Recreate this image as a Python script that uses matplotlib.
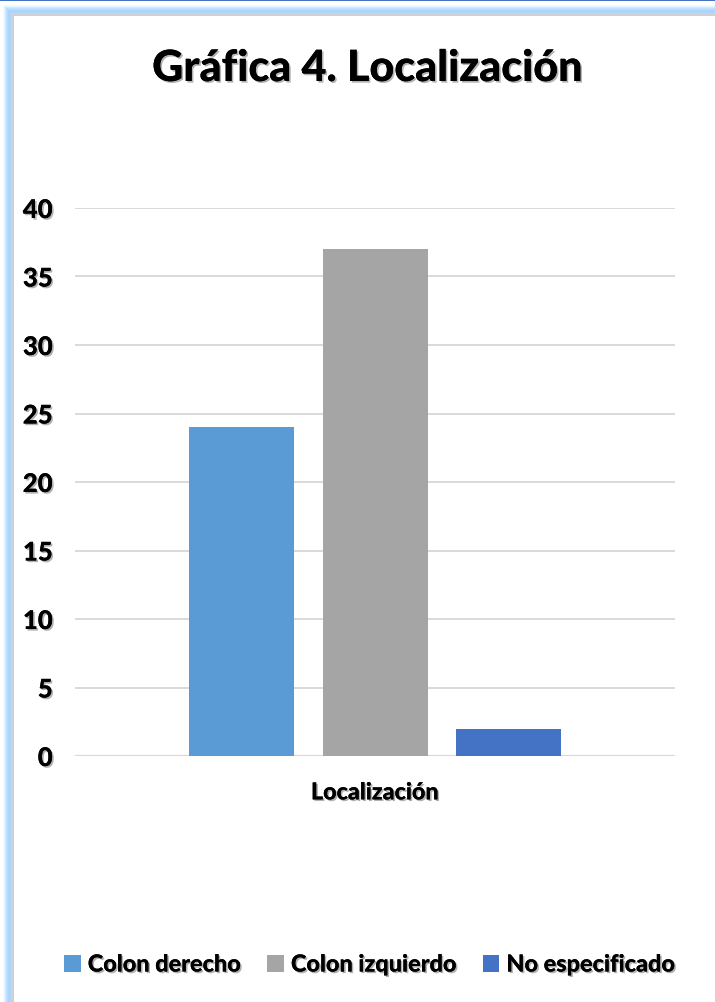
import numpy as np
import matplotlib
matplotlib.use("Agg")
import matplotlib.pyplot as plt
from matplotlib import patheffects as pe
from matplotlib.patches import Rectangle

# Data
category = "Localización"
series_names = ["Colon derecho", "Colon izquierdo", "No especificado"]
series_values = [24, 37, 2]
series_colors = ["#5B9BD5", "#A5A5A5", "#4472C4"]
y_ticks = [0, 5, 10, 15, 20, 25, 30, 35, 40]
title_text = "Gráfica 4. Localización"

W, H = 715, 1003
fig = plt.figure(figsize=(W / 100, H / 100), dpi=100)
fig.patch.set_facecolor("white")

FONT = ["Lato", "DejaVu Sans"]
WEIGHT = 900
shadow = [pe.withSimplePatchShadow(offset=(1.2, -1.2), shadow_rgbFace="#555555", alpha=0.45), pe.Normal()]

# Frame decoration: thin blue top rule and soft light-blue glow on the left and top
deco = fig.add_axes([0, 0, 1, 1], zorder=-5)
deco.set_xlim(0, W)
deco.set_ylim(H, 0)
deco.axis("off")
deco.add_patch(Rectangle((0, 0), W, 2, color="#4472C4", lw=0))
profile = [0.12, 0.3, 0.5, 0.7, 0.85, 0.95, 1.0, 0.95, 0.85]
peak = np.array([0.66, 0.83, 1.0])
for i, t in enumerate(profile):
    c = (1 - t) * np.ones(3) + t * peak
    deco.add_patch(Rectangle((3 + i, 6 + i), 1, H, color=c, lw=0))
    deco.add_patch(Rectangle((3 + i, 6 + i), W, 1, color=c, lw=0))
# inner light-grey edge of the chart area
deco.add_patch(Rectangle((12, 15), 1.5, H, color="#D0D0D0", lw=0))
deco.add_patch(Rectangle((12, 15), W, 1.5, color="#D0D0D0", lw=0))

# Plot area
left, right = 75 / W, 675 / W
bottom, top = 1 - 757 / H, 1 - 209 / H
ax = fig.add_axes([left, bottom, right - left, top - bottom])
ax.set_facecolor("none")

n = len(series_values)
bar_w = 0.175
step = 0.2217
offsets = (np.arange(n) - (n - 1) / 2) * step
for off, val, col, name in zip(offsets, series_values, series_colors, series_names):
    ax.bar(off, val, width=bar_w, color=col, label=name, zorder=3)

ax.set_xlim(-0.5, 0.5)
ax.set_ylim(0, 40)
ax.set_yticks(y_ticks)
ax.yaxis.grid(True, color="#D9D9D9", linewidth=1.4, zorder=0)
ax.set_axisbelow(True)
for s in ax.spines.values():
    s.set_visible(False)
ax.axhline(0, color="#D9D9D9", linewidth=1.6, zorder=1)
ax.tick_params(axis="both", length=0)
ax.tick_params(axis="y", pad=16)
ax.tick_params(axis="x", pad=19)
ax.set_xticks([0])
ax.set_xticklabels([category])
for lab in ax.get_yticklabels():
    lab.set_fontfamily(FONT)
    lab.set_fontweight(WEIGHT)
    lab.set_fontsize(18.5)
    lab.set_path_effects(shadow)
for lab in ax.get_xticklabels():
    lab.set_fontfamily(FONT)
    lab.set_fontweight(WEIGHT)
    lab.set_fontsize(16.8)
    lab.set_path_effects(shadow)

fig.text(367 / W, 1 - 69 / H, title_text, ha="center", va="center",
         fontsize=31, fontweight=WEIGHT, family=FONT, path_effects=shadow)

leg = fig.legend(loc="center", bbox_to_anchor=(370 / W, 1 - 966 / H), ncol=3,
                 frameon=False, handlelength=0.7, handleheight=0.7,
                 handletextpad=0.3, columnspacing=1.1,
                 prop={"family": FONT, "weight": WEIGHT, "size": 16.9})
for t in leg.get_texts():
    t.set_path_effects(shadow)

fig.savefig("out.png", dpi=100, facecolor="white")
